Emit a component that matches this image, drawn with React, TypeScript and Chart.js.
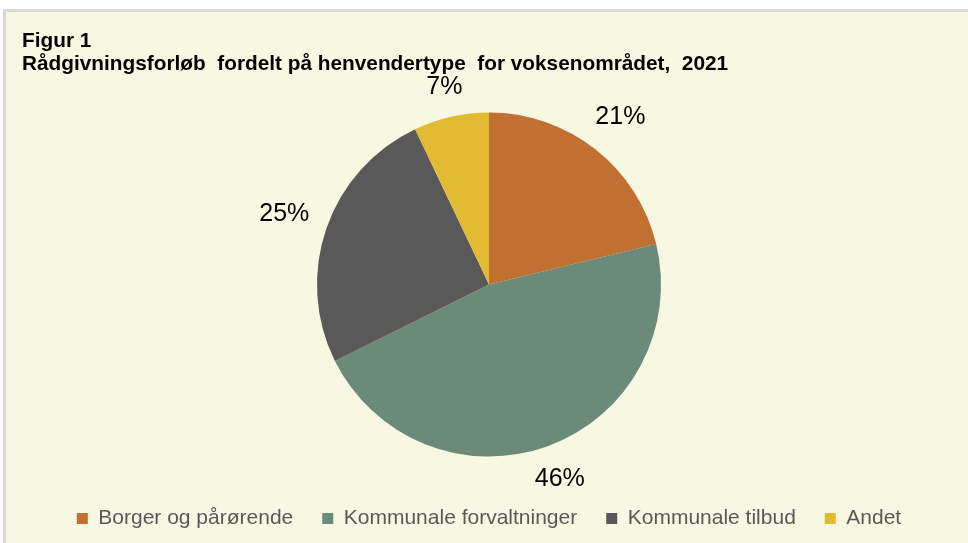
import React, { useEffect, useRef } from "react";
import { Chart, registerables } from "chart.js";

Chart.register(...registerables);

const categories = [
  "Borger og pårørende",
  "Kommunale forvaltninger",
  "Kommunale tilbud",
  "Andet",
];
const values = [21, 46, 25, 7];
const valueLabels = ["21%", "46%", "25%", "7%"];
const colors = ["#C07030", "#6B8A7A", "#595959", "#E3BA33"];
const titleLines = [
  "Figur 1",
  "Rådgivningsforløb  fordelt på henvendertype  for voksenområdet,  2021",
];

const FONT = "'Liberation Sans', Arial, sans-serif";

const bgPlugin = {
  id: "bgPlugin",
  beforeDraw(chart: any) {
    const { ctx, width, height } = chart;
    ctx.save();
    ctx.fillStyle = "#ffffff";
    ctx.fillRect(0, 0, width, height);
    ctx.fillStyle = "#d9d9d9";
    ctx.fillRect(3, 9, width - 3, height - 9);
    ctx.fillStyle = "#F8F7E2";
    ctx.fillRect(6, 12, width - 6, height - 12);
    ctx.restore();
  },
};

const labelPlugin = {
  id: "labelPlugin",
  afterDatasetsDraw(chart: any) {
    const { ctx } = chart;
    const meta = chart.getDatasetMeta(0);
    ctx.save();
    ctx.font = `25px ${FONT}`;
    ctx.fillStyle = "#000000";
    ctx.textAlign = "center";
    ctx.textBaseline = "middle";
    const gap = 18;
    const h = 18;
    meta.data.forEach((arc: any, i: number) => {
      const { x, y, startAngle, endAngle, outerRadius } = arc.getProps(
        ["x", "y", "startAngle", "endAngle", "outerRadius"],
        true
      );
      const mid = (startAngle + endAngle) / 2;
      const c = Math.cos(mid);
      const s = Math.sin(mid);
      const w = ctx.measureText(valueLabels[i]).width;
      const half = Math.abs(c) * w / 2 + Math.abs(s) * h / 2;
      const r = outerRadius + gap + half;
      ctx.fillText(valueLabels[i], x + c * r, y + s * r);
    });
    ctx.restore();
  },
};

export default function App() {
  const ref = useRef<HTMLCanvasElement>(null);
  useEffect(() => {
    document.body.style.margin = "0";
    const chart = new Chart(ref.current!, {
      type: "pie",
      data: {
        labels: categories,
        datasets: [
          {
            data: values,
            backgroundColor: colors,
            borderWidth: 0,
            radius: 172,
          },
        ],
      },
      options: {
        responsive: false,
        animation: false,
        layout: { padding: { top: 90, left: 10, right: 0, bottom: 4 } },
        plugins: {
          title: { display: false },
          tooltip: { enabled: false },
          legend: {
            position: "bottom",
            labels: {
              boxWidth: 11,
              boxHeight: 11,
              padding: 29,
              color: "#595959",
              font: { family: FONT, size: 21 },
            },
          },
        },
      },
      plugins: [bgPlugin, labelPlugin],
    });
    return () => chart.destroy();
  }, []);
  return (
    <div style={{ position: "relative", width: 968, height: 543 }}>
      <canvas ref={ref} width={968} height={543} />
      <div
        style={{
          position: "absolute",
          left: 22,
          top: 28,
          font: `bold 20.8px ${FONT}`,
          lineHeight: "23px",
          color: "#000",
          whiteSpace: "pre",
        }}
      >
        {titleLines.map((t, i) => (
          <div key={i}>{t}</div>
        ))}
      </div>
    </div>
  );
}
